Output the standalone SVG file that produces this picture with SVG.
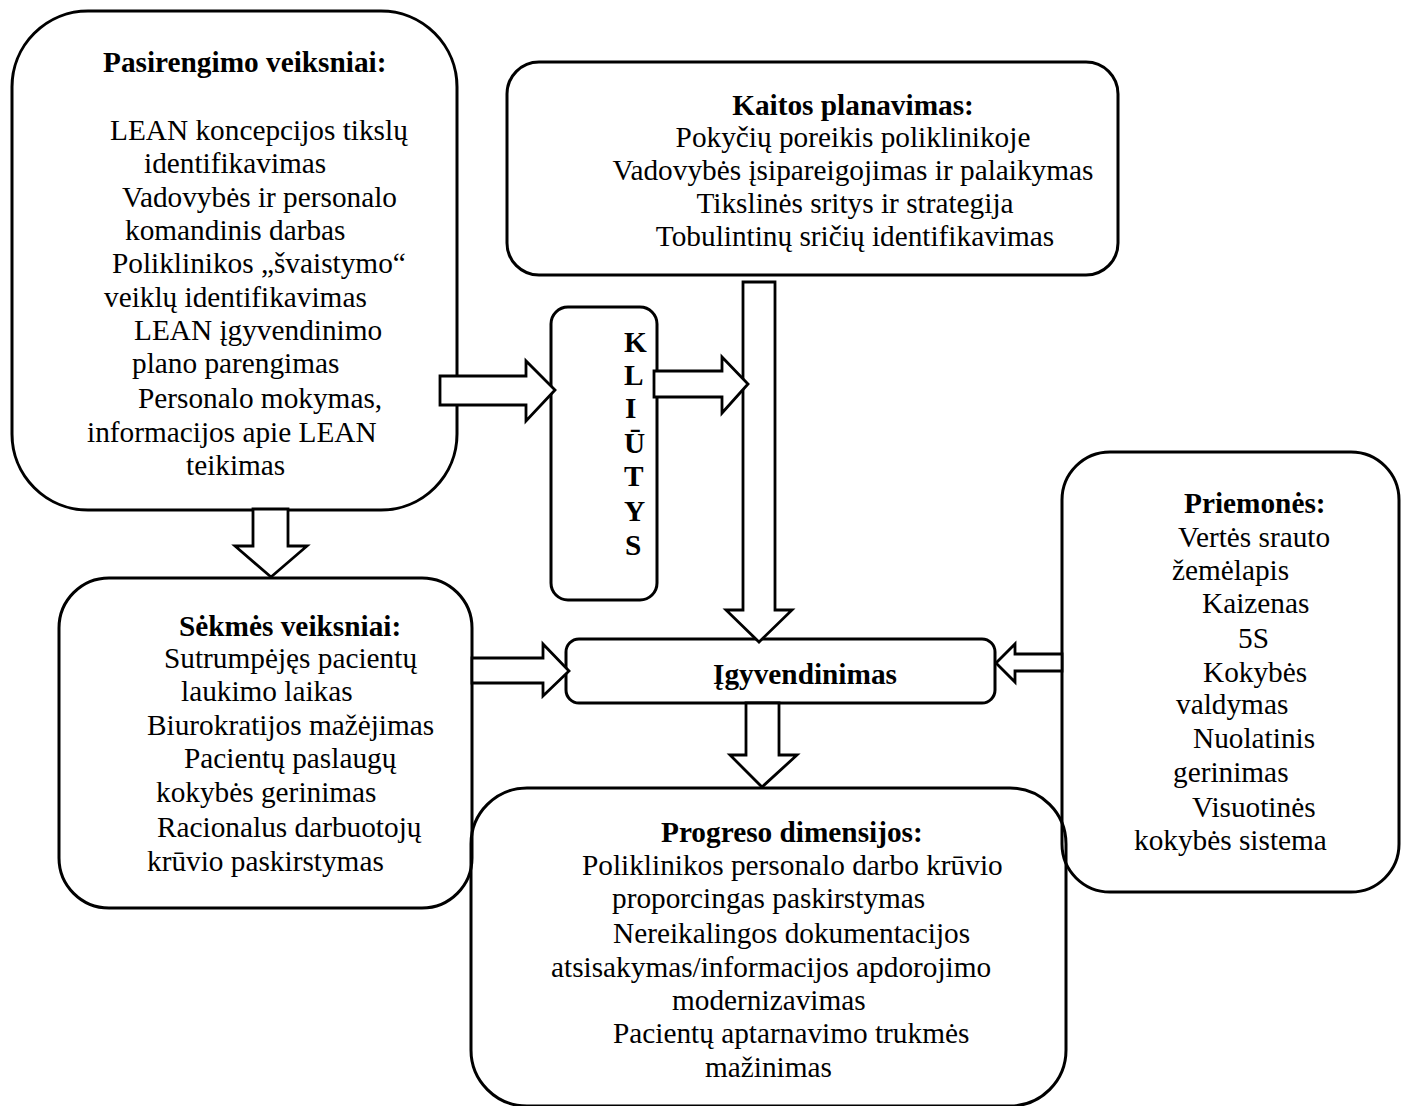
<svg xmlns="http://www.w3.org/2000/svg" width="1407" height="1106" viewBox="0 0 1407 1106">
<style>
.box{fill:none;stroke:#000;stroke-width:3}
.arr{fill:#fff;stroke:#000;stroke-width:2.8;stroke-linejoin:miter}
text{font-family:"Liberation Serif","Times New Roman",serif;font-size:29.3px;fill:#000}
.b{font-weight:bold}
.m{text-anchor:middle}
</style>
<rect width="1407" height="1106" fill="#fff"/>
<g id="pasirengimo">
<rect class="box" x="12" y="11" width="445" height="499" rx="76" ry="76"/>
<text class="b" x="103" y="72">Pasirengimo veiksniai:</text>
<text x="110" y="140">LEAN koncepcijos tikslų</text>
<text x="144" y="173">identifikavimas</text>
<text x="122" y="207">Vadovybės ir personalo</text>
<text x="125" y="240">komandinis darbas</text>
<text x="112" y="273">Poliklinikos „švaistymo“</text>
<text x="104" y="307">veiklų identifikavimas</text>
<text x="134" y="340">LEAN įgyvendinimo</text>
<text x="132" y="373">plano parengimas</text>
<text x="138" y="408">Personalo mokymas,</text>
<text x="87" y="442">informacijos apie LEAN</text>
<text x="186" y="475">teikimas</text>
</g>
<g id="kaitos">
<rect class="box" x="507" y="62" width="611" height="213" rx="32" ry="32"/>
<text class="b m" x="853" y="115">Kaitos planavimas:</text>
<text class="m" x="853" y="147">Pokyčių poreikis poliklinikoje</text>
<text class="m" x="853" y="180">Vadovybės įsipareigojimas ir palaikymas</text>
<text class="m" x="855" y="213">Tikslinės sritys ir strategija</text>
<text class="m" x="855" y="246">Tobulintinų sričių identifikavimas</text>
</g>
<g id="kliutys">
<rect class="box" x="551" y="307" width="106" height="293" rx="17" ry="17"/>
<text class="b" x="624" y="352">K</text>
<text class="b" x="624" y="385">L</text>
<text class="b" x="625" y="418">I</text>
<text class="b" x="624" y="453">Ū</text>
<text class="b" x="624" y="486">T</text>
<text class="b" x="624" y="521">Y</text>
<text class="b" x="625" y="555">S</text>
</g>
<g id="sekmes">
<rect class="box" x="59" y="578" width="413" height="330" rx="50" ry="50"/>
<text class="b" x="179" y="636">Sėkmės veiksniai:</text>
<text x="164" y="668">Sutrumpėjęs pacientų</text>
<text x="181" y="701">laukimo laikas</text>
<text x="147" y="735">Biurokratijos mažėjimas</text>
<text x="184" y="768">Pacientų paslaugų</text>
<text x="156" y="802">kokybės gerinimas</text>
<text x="157" y="837">Racionalus darbuotojų</text>
<text x="147" y="871">krūvio paskirstymas</text>
</g>
<g id="igyvendinimas">
<rect class="box" x="566" y="639" width="429" height="64" rx="13" ry="13"/>
<text class="b" x="713" y="684">Įgyvendinimas</text>
</g>
<g id="priemones">
<rect class="box" x="1062" y="452" width="337" height="440" rx="48" ry="48"/>
<text class="b" x="1184" y="513">Priemonės:</text>
<text x="1178" y="547">Vertės srauto</text>
<text x="1172" y="580">žemėlapis</text>
<text x="1202" y="613">Kaizenas</text>
<text x="1238" y="648">5S</text>
<text x="1203" y="682">Kokybės</text>
<text x="1176" y="714">valdymas</text>
<text x="1193" y="748">Nuolatinis</text>
<text x="1173" y="782">gerinimas</text>
<text x="1192" y="817">Visuotinės</text>
<text x="1134" y="850">kokybės sistema</text>
</g>
<g id="progreso">
<rect class="box" x="471" y="788" width="595" height="318" rx="56" ry="56"/>
<text class="b" x="661" y="842">Progreso dimensijos:</text>
<text x="582" y="875">Poliklinikos personalo darbo krūvio</text>
<text x="612" y="908">proporcingas paskirstymas</text>
<text x="613" y="943">Nereikalingos dokumentacijos</text>
<text x="551" y="977">atsisakymas/informacijos apdorojimo</text>
<text x="672" y="1010">modernizavimas</text>
<text x="613" y="1043">Pacientų aptarnavimo trukmės</text>
<text x="705" y="1077">mažinimas</text>
</g>
<g id="connectors">
<polygon class="arr" points="253,509 288,509 288,546 307,546 271,577 235,546 253,546"/>
<polygon class="arr" points="440,376 526,376 526,361 555,390 526,421 526,405 440,405"/>
<polygon class="arr" points="743,282 775,282 775,610 792,610 759,642 726,610 743,610"/>
<polygon class="arr" points="654,371 722,371 722,357 748,384 722,413 722,397 654,397"/>
<polygon class="arr" points="472,658 543,658 543,644 569,671 543,696 543,683 472,683"/>
<polygon class="arr" points="1062,654 1015,654 1015,644 996,663 1015,682 1015,671 1062,671"/>
<polygon class="arr" points="746,703 779,703 779,755 797,755 762,787 730,755 746,755"/>
</g>
</svg>
